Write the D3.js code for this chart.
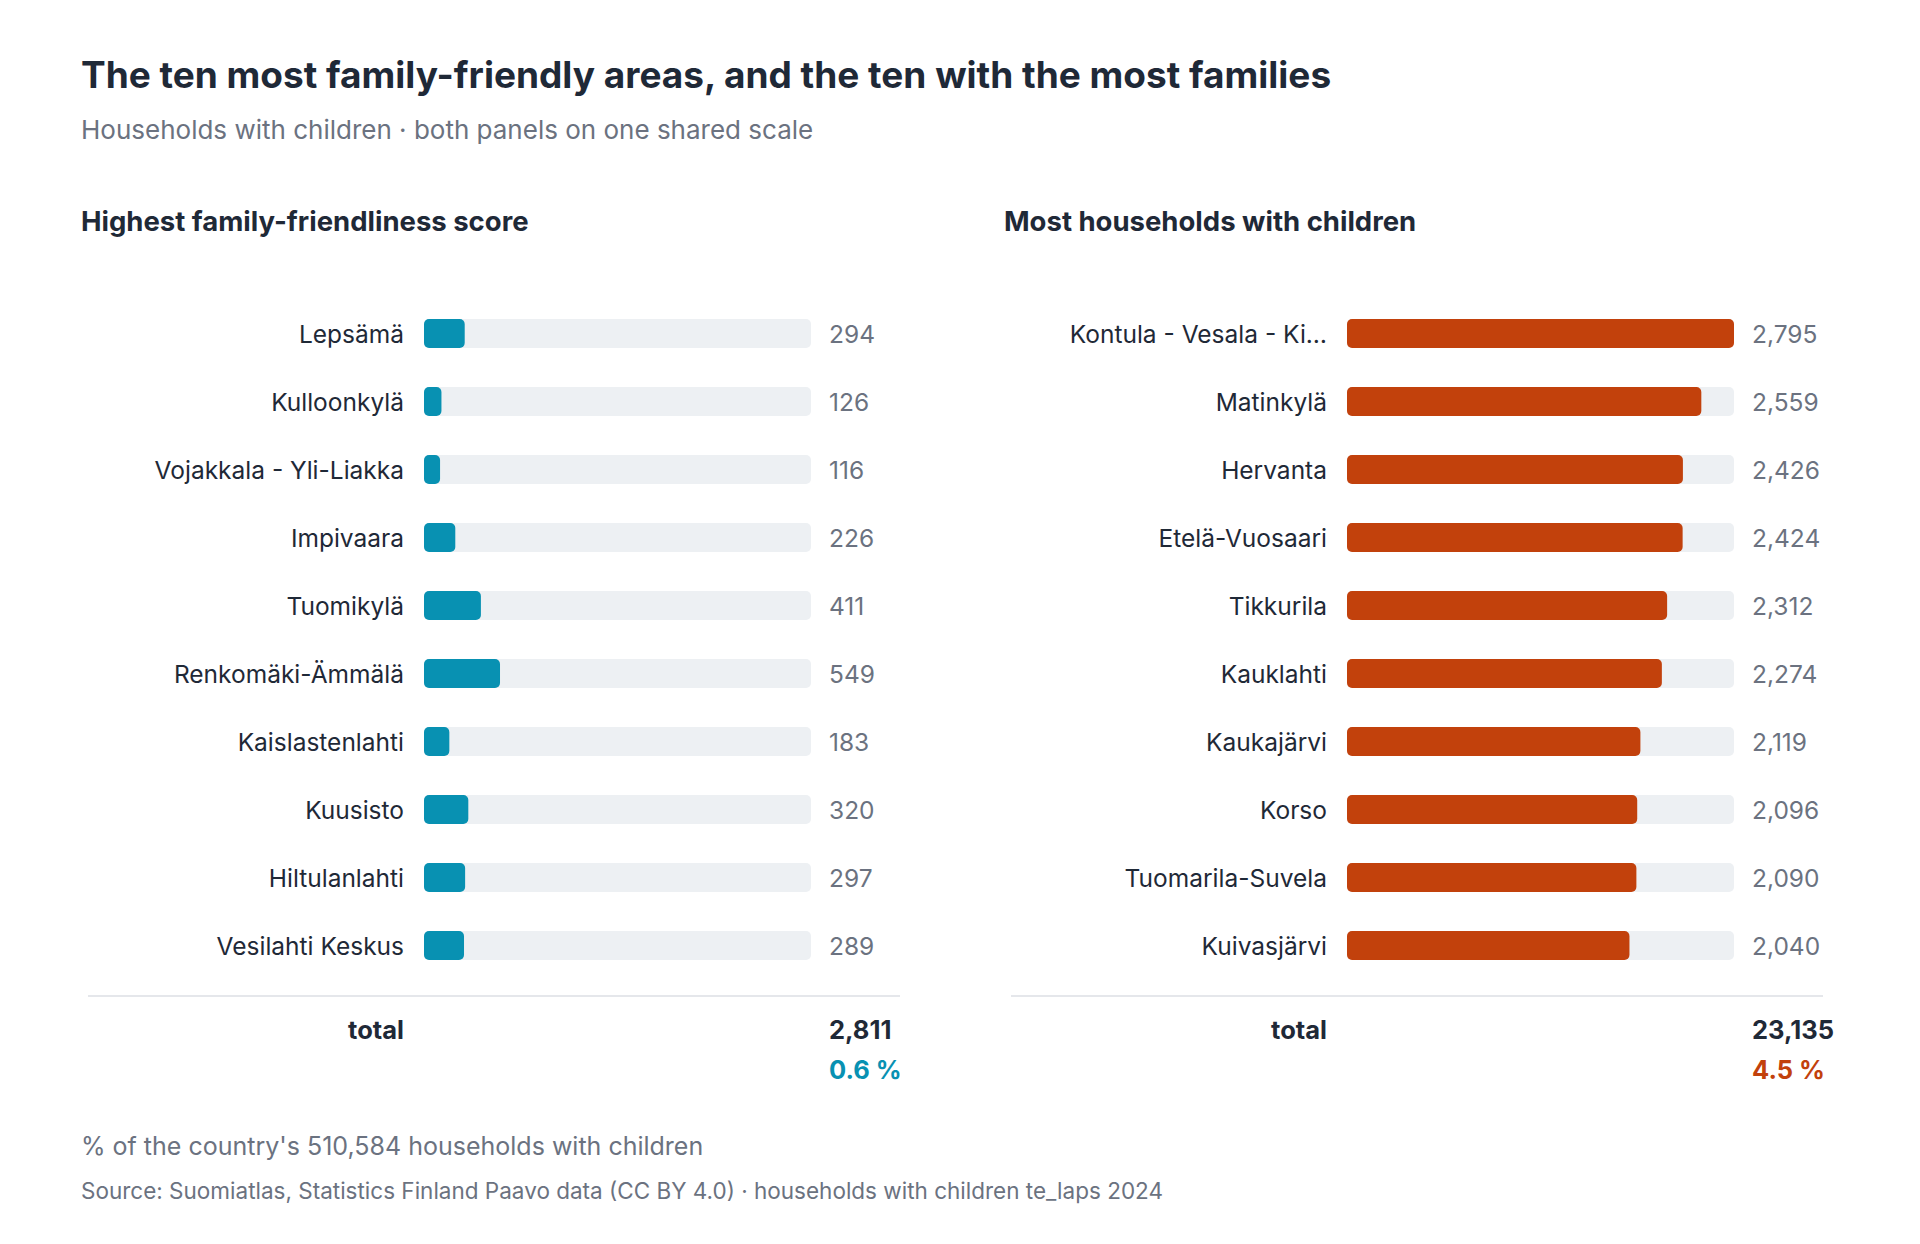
<!DOCTYPE html>
<html><head><meta charset="utf-8">
<script src="https://cdn.jsdelivr.net/npm/d3@7"></script>
<style>
body{margin:0;background:#fff;font-family:Inter,"Noto Sans",sans-serif;}
</style></head>
<body><svg id="chart" width="1920" height="1244"></svg>
<script>
// data
const leftNames = ["Lepsämä","Kulloonkylä","Vojakkala - Yli-Liakka","Impivaara","Tuomikylä","Renkomäki-Ämmälä","Kaislastenlahti","Kuusisto","Hiltulanlahti","Vesilahti Keskus"];
const leftValues = [294,126,116,226,411,549,183,320,297,289];
const rightNames = ["Kontula - Vesala - Ki…","Matinkylä","Hervanta","Etelä-Vuosaari","Tikkurila","Kauklahti","Kaukajärvi","Korso","Tuomarila-Suvela","Kuivasjärvi"];
const rightValues = [2795,2559,2426,2424,2312,2274,2119,2096,2090,2040];
const totals = [2811, 23135];
const shares = ["0.6 %", "4.5 %"];
const colors = ["#0891b2", "#c2410c"];

const svg = d3.select("#chart");
const fmt = d3.format(",");
const dark = "#1f2937", gray = "#6b7280";

svg.append("text").attr("x",81).attr("y",88).attr("font-size",37).attr("font-weight",700)
  .attr("fill",dark).text("The ten most family-friendly areas, and the ten with the most families");
svg.append("text").attr("x",81).attr("y",139).attr("font-size",26).attr("fill",gray)
  .text("Households with children · both panels on one shared scale");

// shared scale
const maxV = d3.max(leftValues.concat(rightValues));

function panel(x0, title, names, values, total, share, color) {
  const g = svg.append("g").attr("transform", `translate(${x0},0)`);
  g.append("text").attr("x",0).attr("y",231).attr("font-size",27.5).attr("font-weight",700)
    .attr("fill",dark).text(title);
  const x = d3.scaleLinear().domain([0,maxV]).range([424-81, 811-81]);
  const rows = g.selectAll(".row").data(values).enter().append("g")
    .attr("transform",(d,i)=>`translate(0,${333 + i*68})`);
  rows.append("rect").attr("x",x(0)).attr("y",-14).attr("height",29).attr("rx",5)
    .attr("width",x(maxV)-x(0)).attr("fill","#edf0f3");
  rows.append("rect").attr("x",x(0)).attr("y",-14).attr("height",29).attr("rx",5)
    .attr("width",d=>x(d)-x(0)).attr("fill",color);
  rows.append("text").attr("x",x(0)-20).attr("y",1).attr("dy","0.35em").attr("text-anchor","end")
    .attr("font-size",24.5).attr("fill",dark).text((d,i)=>names[i]);
  rows.append("text").attr("x",x(maxV)+18).attr("y",1).attr("dy","0.35em")
    .attr("font-size",24.5).attr("fill",gray).text(d=>fmt(d));
  g.append("line").attr("x1",7).attr("x2",819).attr("y1",996).attr("y2",996)
    .attr("stroke","#e5e7eb").attr("stroke-width",2);
  g.append("text").attr("x",x(0)-20).attr("y",1039).attr("text-anchor","end").attr("font-size",25.5)
    .attr("font-weight",700).attr("fill",dark).text("total");
  g.append("text").attr("x",x(maxV)+18).attr("y",1039).attr("font-size",25.5)
    .attr("font-weight",700).attr("fill",dark).text(fmt(total));
  g.append("text").attr("x",x(maxV)+18).attr("y",1079).attr("font-size",25.5)
    .attr("font-weight",700).attr("fill",color).text(share);
}
panel(81, "Highest family-friendliness score", leftNames, leftValues, totals[0], shares[0], colors[0]);
panel(1004, "Most households with children", rightNames, rightValues, totals[1], shares[1], colors[1]);

svg.append("text").attr("x",81).attr("y",1155).attr("font-size",25).attr("fill",gray)
  .text("% of the country's 510,584 households with children");
svg.append("text").attr("x",81).attr("y",1199).attr("font-size",22.5).attr("fill",gray)
  .text("Source: Suomiatlas, Statistics Finland Paavo data (CC BY 4.0) · households with children te_laps 2024");
</script></body></html>
